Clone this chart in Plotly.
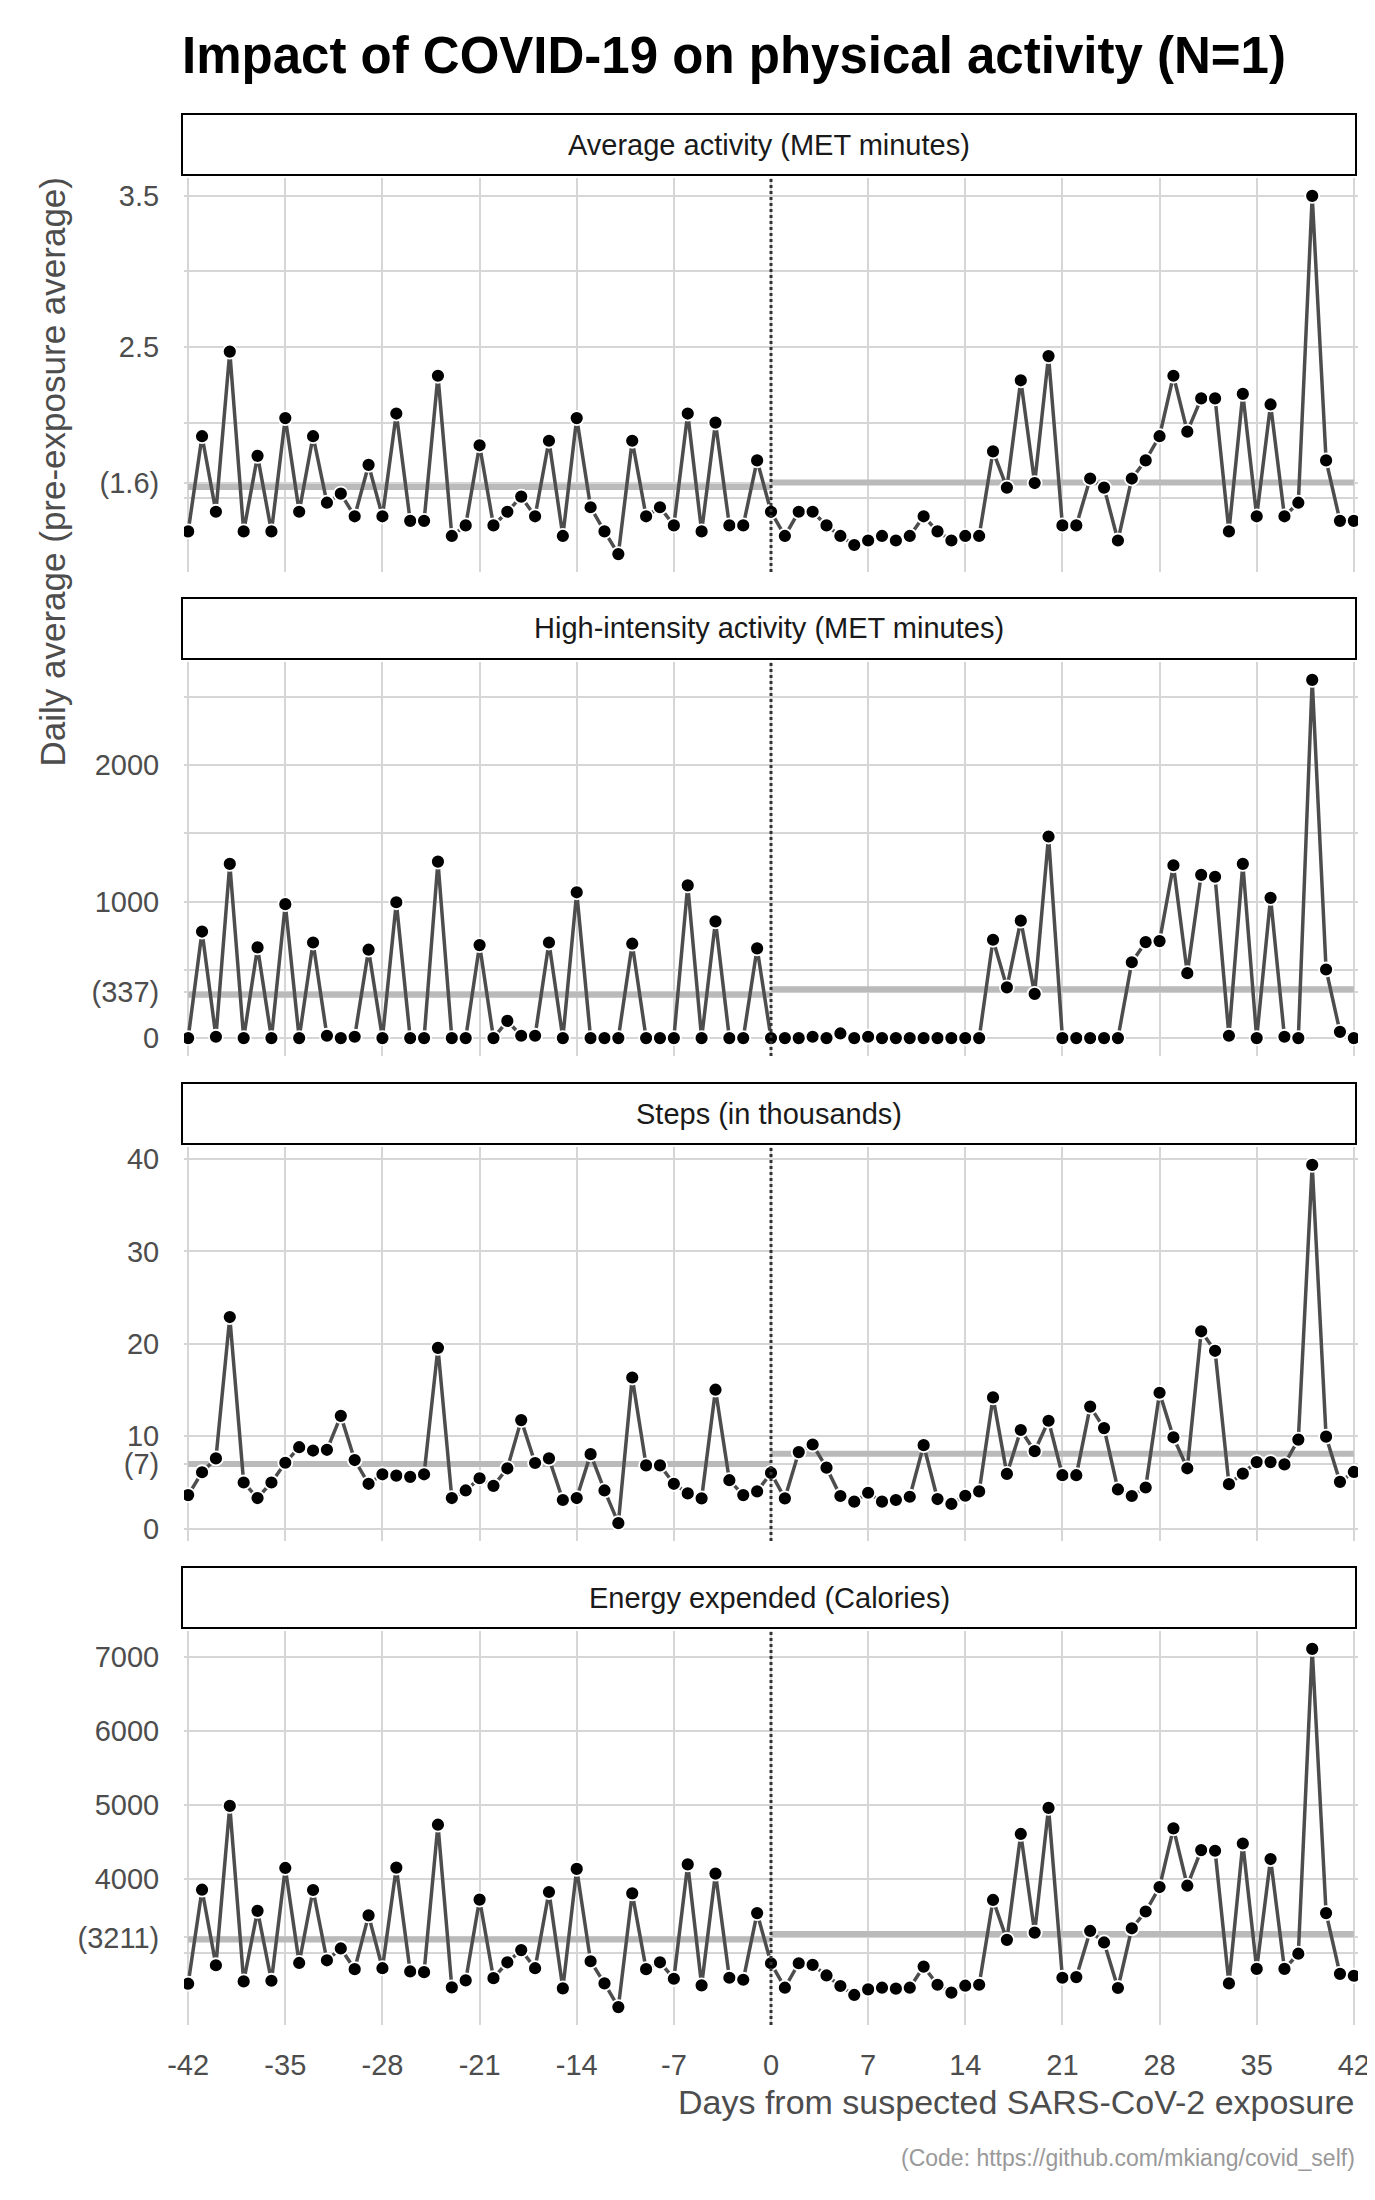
import numpy as np
import plotly.graph_objects as go

# days relative to suspected exposure
days = list(range(-42, 43))

# daily values (day -42 .. 42)
avg_met = [
    1.28, 1.91, 1.41, 2.47, 1.28, 1.78, 1.28, 2.03, 1.41, 1.91,
    1.47, 1.53, 1.38, 1.72, 1.38, 2.06, 1.35, 1.35, 2.31, 1.25,
    1.32, 1.85, 1.32, 1.41, 1.51, 1.38, 1.88, 1.25, 2.03, 1.44,
    1.28, 1.13, 1.88, 1.38, 1.44, 1.32, 2.06, 1.28, 2.00, 1.32,
    1.32, 1.75,
    1.41,
    1.25, 1.41, 1.41, 1.32, 1.25, 1.19, 1.22, 1.25, 1.22, 1.25,
    1.38, 1.28, 1.22, 1.25, 1.25, 1.81, 1.57, 2.28, 1.60, 2.44,
    1.32, 1.32, 1.63, 1.57, 1.22, 1.63, 1.75, 1.91, 2.31, 1.94,
    2.16, 2.16, 1.28, 2.19, 1.38, 2.12, 1.38, 1.47, 3.50, 1.75,
    1.35, 1.35,
]
high_met = [
    0, 781, 10, 1277, 0, 665, 0, 982, 0, 701,
    17, 0, 10, 648, 0, 996, 0, 0, 1294, 0,
    0, 682, 0, 126, 17, 17, 701, 0, 1069, 0,
    0, 0, 692, 0, 0, 0, 1120, 0, 856, 0,
    0, 658,
    0,
    0, 0, 10, 0, 34, 0, 10, 0, 0, 0,
    0, 0, 0, 0, 0, 721, 372, 861, 324, 1478,
    0, 0, 0, 0, 0, 556, 704, 711, 1267, 476,
    1197, 1183, 17, 1277, 0, 1028, 10, 0, 2626, 503,
    46, 0,
]
steps_k = [
    3.64, 6.11, 7.61, 22.9, 5.0, 3.32, 5.0, 7.14, 8.82, 8.46,
    8.54, 12.21, 7.43, 4.86, 5.89, 5.75, 5.61, 5.89, 19.57, 3.32,
    4.14, 5.46, 4.64, 6.54, 11.75, 7.11, 7.61, 3.11, 3.32, 8.07,
    4.14, 0.61, 16.36, 6.86, 6.86, 4.86, 3.82, 3.29, 15.04, 5.25,
    3.64, 4.04,
    6.04,
    3.29, 8.29, 9.11, 6.61, 3.54, 2.93, 3.89, 2.93, 3.11, 3.46,
    9.04, 3.21, 2.68, 3.57, 4.04, 14.21, 5.93, 10.68, 8.39, 11.68,
    5.79, 5.79, 13.21, 10.89, 4.25, 3.54, 4.46, 14.71, 9.89, 6.54,
    21.36, 19.25, 4.82, 5.96, 7.21, 7.21, 6.96, 9.64, 39.36, 9.96,
    5.07, 6.14,
]
calories = [
    2586, 3855, 2835, 4987, 2617, 3570, 2626, 4149, 2866, 3851,
    2902, 3062, 2782, 3508, 2795, 4154, 2751, 2742, 4733, 2537,
    2630, 3722, 2661, 2875, 3040, 2795, 3824, 2523, 4136, 2889,
    2590, 2270, 3806, 2782, 2875, 2653, 4198, 2564, 4073, 2666,
    2639, 3539,
    2862,
    2532, 2862, 2840, 2697, 2555, 2434, 2510, 2532, 2519, 2532,
    2817, 2572, 2466, 2559, 2572, 3717, 3178, 4608, 3276, 4960,
    2666, 2675, 3298, 3143, 2528, 3334, 3561, 3891, 4684, 3909,
    4390, 4381, 2590, 4479, 2786, 4269, 2786, 2991, 7107, 3539,
    2719, 2693,
]

panel_titles = [
    "Average activity (MET minutes)",
    "High-intensity activity (MET minutes)",
    "Steps (in thousands)",
    "Energy expended (Calories)",
]
# pre-exposure average shown as a y tick label
pre_label_vals = [1.6, 337, 7, 3211]
pre_label_text = ["(1.6)", "(337)", "(7)", "(3211)"]
grid_vals = [
    [1.5, 2.0, 2.5, 3.0, 3.5],
    [0, 500, 1000, 1500, 2000, 2500],
    [0, 10, 20, 30, 40],
    [3000, 4000, 5000, 6000, 7000],
]
grid_text = [
    ["", "", "2.5", "", "3.5"],
    ["0", "", "1000", "", "2000", ""],
    ["0", "10", "20", "30", "40"],
    ["", "4000", "5000", "6000", "7000"],
]
x_ticks = list(range(-42, 43, 7))

series = [avg_met, high_met, steps_k, calories]

# the page body adds an 8px margin, so the figure is a bit smaller and
# every position below (in screen pixels) is shifted back by that offset
OFF = 8
W, H = 1375 - OFF, 2200 - OFF
FONT = "Liberation Sans, Arial, sans-serif"


def px(x):
    return (x - OFF) / W


def py(y):
    return 1 - (y - OFF) / H


x_dom = [px(184), px(1358)]
tops = [178, 662, 1147, 1631]
bots = [572, 1056, 1541, 2025]

fig = go.Figure()
shapes = []
annos = []
d = np.array(days)

for i, vals in enumerate(series):
    v = np.array(vals, dtype=float)
    xa = "x" if i == 0 else f"x{i + 1}"
    ya = "y" if i == 0 else f"y{i + 1}"
    pre_mean = v[d < 0].mean()
    post_mean = v[d >= 0].mean()

    # mean bands
    fig.add_trace(go.Scatter(x=[-42, 0], y=[pre_mean, pre_mean], mode="lines",
                             line=dict(color="#bababa", width=6),
                             xaxis=xa, yaxis=ya, hoverinfo="skip"))
    fig.add_trace(go.Scatter(x=[0, 42], y=[post_mean, post_mean], mode="lines",
                             line=dict(color="#bababa", width=6),
                             xaxis=xa, yaxis=ya, hoverinfo="skip"))
    # daily series
    fig.add_trace(go.Scatter(x=days, y=vals, mode="lines+markers",
                             line=dict(color="#4d4d4d", width=3.5),
                             marker=dict(color="black", size=14,
                                         line=dict(color="white", width=1.8)),
                             xaxis=xa, yaxis=ya))

    lo = min(v.min(), pre_mean, post_mean)
    hi = max(v.max(), pre_mean, post_mean)
    pad = 0.05 * (hi - lo)

    tv = grid_vals[i] + [pre_label_vals[i]]
    tt = grid_text[i] + [pre_label_text[i]]

    fig.layout[("yaxis" if i == 0 else f"yaxis{i + 1}")] = dict(
        domain=[py(bots[i]), py(tops[i])], anchor=xa, range=[lo - pad, hi + pad],
        automargin=False,
        tickvals=tv, ticktext=tt, ticks="outside", ticklen=18,
        tickcolor="rgba(0,0,0,0)", showgrid=True, gridcolor="#d6d6d6",
        gridwidth=1.5, zeroline=False, showline=False,
        tickfont=dict(family=FONT, size=29, color="#4d4d4d"),
    )
    fig.layout[("xaxis" if i == 0 else f"xaxis{i + 1}")] = dict(
        domain=x_dom, anchor=ya, range=[-42.3, 42.3], automargin=False,
        tickvals=x_ticks, ticktext=[str(t) for t in x_ticks],
        showticklabels=(i == 3), ticks="outside", ticklen=14,
        tickcolor="rgba(0,0,0,0)", showgrid=True, gridcolor="#d6d6d6",
        gridwidth=1.5, zeroline=False, showline=False,
        tickfont=dict(family=FONT, size=29, color="#4d4d4d"),
    )

    # exposure day marker
    shapes.append(dict(type="line", xref=xa, yref=f"{ya} domain", x0=0, x1=0,
                       y0=0, y1=1, line=dict(color="#333333", width=3, dash="dot"),
                       layer="above"))
    # facet strip
    s_top = py(tops[i] - 64)
    s_bot = py(tops[i] - 3)
    shapes.append(dict(type="rect", xref="paper", yref="paper",
                       x0=px(182), x1=px(1356), y0=s_bot, y1=s_top,
                       line=dict(color="black", width=2), fillcolor="white"))
    annos.append(dict(text=panel_titles[i], xref="paper", yref="paper",
                      x=(px(182) + px(1356)) / 2, y=(s_top + s_bot) / 2,
                      xanchor="center", yanchor="middle", showarrow=False,
                      font=dict(family=FONT, size=29, color="#1a1a1a")))

annos.append(dict(text="Impact of COVID-19 on physical activity (N=1)",
                  xref="paper", yref="paper", x=px(180), y=py(56),
                  xanchor="left", yanchor="middle", showarrow=False,
                  font=dict(family=FONT, size=51, color="black", weight=700)))
annos.append(dict(text="Days from suspected SARS-CoV-2 exposure",
                  xref="paper", yref="paper", x=px(1357), y=py(2102),
                  xanchor="right", yanchor="middle", showarrow=False,
                  font=dict(family=FONT, size=34, color="#4d4d4d")))
annos.append(dict(text="(Code: https://github.com/mkiang/covid_self)",
                  xref="paper", yref="paper", x=px(1357), y=py(2158),
                  xanchor="right", yanchor="middle", showarrow=False,
                  font=dict(family=FONT, size=23, color="#999999")))
annos.append(dict(text="Daily average (pre-exposure average)",
                  xref="paper", yref="paper", x=px(52), y=py(176),
                  xanchor="center", yanchor="top", textangle=-90, showarrow=False,
                  font=dict(family=FONT, size=35, color="#4d4d4d")))

fig.update_layout(
    width=W, height=H, showlegend=False,
    margin=dict(l=0, r=0, t=0, b=0),
    paper_bgcolor="white", plot_bgcolor="white",
    shapes=shapes, annotations=annos,
)

fig.write_html("out.html")
